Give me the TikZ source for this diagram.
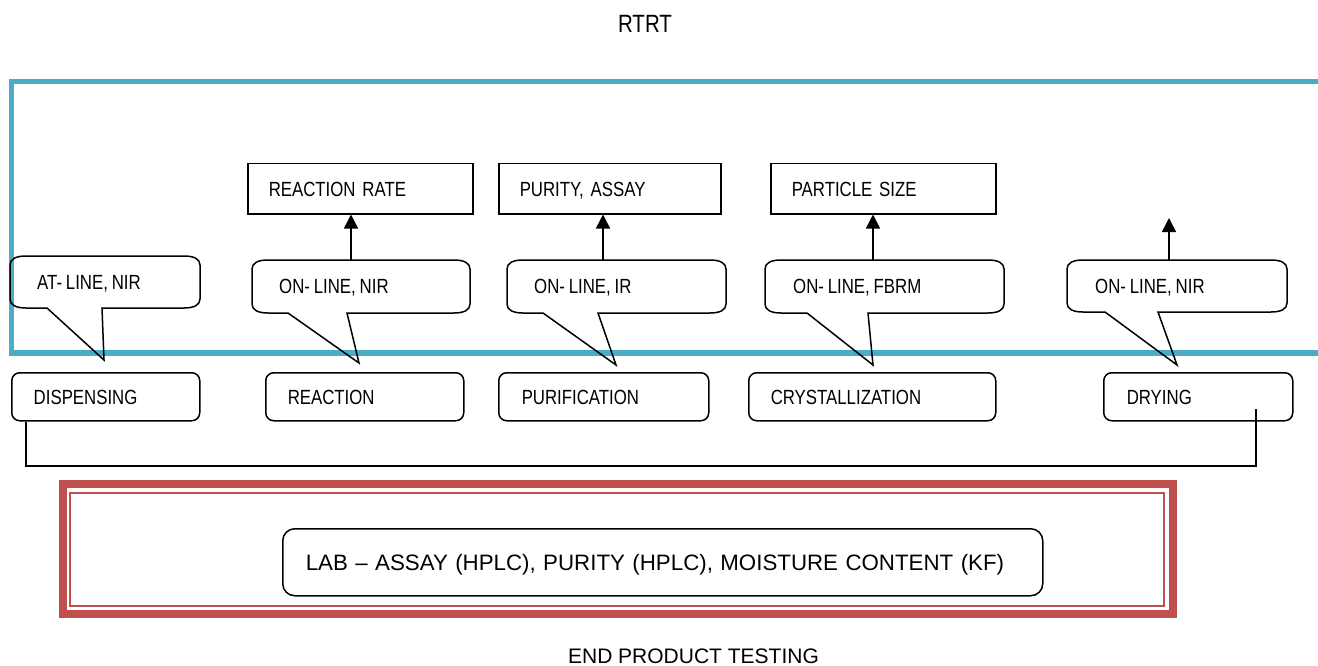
\documentclass[tikz,border=0pt]{standalone}
\usepackage{fontspec}
\setmainfont{Liberation Sans}[FakeStretch=0.82, WordSpace=0.82]
\newfontfamily\widefont{Liberation Sans}
\usetikzlibrary{arrows.meta}
\definecolor{rtrtblue}{HTML}{4BACC6}
\definecolor{labred}{HTML}{C0504D}
\frenchspacing

\begin{document}
\begin{tikzpicture}[x=1pt,y=-1pt,
    font=\fontsize{20.5}{24}\selectfont,
    every node/.style={text height=14.7pt, text depth=0pt},
    stage/.style={draw, line width=1.5pt, rounded corners=8pt, minimum height=48pt,
        inner xsep=22pt, text width=#1, align=left, anchor=north west},
    measure/.style={draw, line width=1.5pt, minimum height=50pt,
        inner xsep=21pt, text width=#1, align=left, anchor=north west},
    bubble/.style={line width=1.5pt, line join=miter},
    arr/.style={line width=1.5pt, -{Triangle[length=14pt,width=14pt]}}]
    \useasboundingbox (0,0) rectangle (1318,666);

    % RTRT frame, open on the right
    \node[font=\fontsize{25}{30}\selectfont, text height=17.9pt] (rtrt) at (645,24) {RTRT};
    \draw[rtrtblue, line width=5.5pt] (1318,81.5) -- (11.5,81.5) -- (11.5,353) -- (1318,353);

    % measured attributes
    \node[measure=183pt] (rate) at (247,163) {REACTION RATE};
    \node[measure=180pt] (purity) at (498,163) {PURITY, ASSAY};
    \node[measure=183pt] (size) at (770,163) {PARTICLE SIZE};

    % analyser callouts
    \foreach \n/\l/\t/\r/\b/\pa/\pb/\tx/\ty/\txt/\label in {
        1/10/256/200/308/47/102/104/360/37/{AT- LINE, NIR},
        2/252/260/470/313/288/347/359/363/279/{ON- LINE, NIR},
        3/507/260/726/313/543/598/616/365/534/{ON- LINE, IR},
        4/765/260/1004/313/807/868/873/365/793/{ON- LINE, FBRM},
        5/1067/260/1287/312/1105/1158/1177/365/1095/{ON- LINE, NIR}}
    {
        \draw[bubble] (\l,\t+9) .. controls (\l,\t+3) and (\l+6,\t) .. (\l+16,\t)
            -- (\r-16,\t) .. controls (\r-6,\t) and (\r,\t+3) .. (\r,\t+9)
            -- (\r,\b-9) .. controls (\r,\b-3) and (\r-6,\b) .. (\r-16,\b)
            -- (\pb,\b) -- (\tx,\ty) -- (\pa,\b)
            -- (\l+16,\b) .. controls (\l+6,\b) and (\l,\b-3) .. (\l,\b-9) -- cycle;
        \node[anchor=west, inner sep=0pt] (call\n) at (\txt,{(\t+\b)/2}) {\label};
    }

    % arrows up to the attributes
    \coordinate (up2) at (351,260);
    \coordinate (up3) at (603,260);
    \coordinate (up4) at (873,260);
    \coordinate (up5) at (1169,260);
    \coordinate (free5) at (1169,218);
    \draw[arr] (up2) -- (up2 |- rate.south);
    \draw[arr] (up3) -- (up3 |- purity.south);
    \draw[arr] (up4) -- (up4 |- size.south);
    \draw[arr] (up5) -- (free5);

    % process steps
    \node[stage=144pt] (dispensing) at (11,372) {DISPENSING};
    \node[stage=154pt] (reaction) at (265,372) {REACTION};
    \node[stage=164pt, inner xsep=23pt] (purification) at (498,372) {PURIFICATION};
    \node[stage=203pt] (crystallization) at (748,372) {CRYSTALLIZATION};
    \node[stage=143pt, inner xsep=23pt] (drying) at (1103,372) {DRYING};

    % bracket under the steps
    \coordinate (brL) at (26,466);
    \coordinate (brR) at (1256,466);
    \coordinate (brTop) at (1256,409);
    \draw[line width=1.3pt] (dispensing.south -| brL) -- (brL) -- (brR) -- (brTop);

    % end product testing
    \draw[labred, line width=8.5pt] (63,484) rectangle (1173,614);
    \draw[labred, line width=2pt] (70,493) rectangle (1164,606);
    \node[stage=714pt, inner xsep=23pt, rounded corners=12pt, minimum height=67pt,
        font=\widefont\fontsize{22.3}{27}\selectfont, text height=16pt]
        (lab) at (282,528) {LAB – ASSAY (HPLC), PURITY (HPLC), MOISTURE CONTENT (KF)};
    \node[font=\widefont\fontsize{21}{25}\selectfont, text height=15pt]
        (endtest) at (693.5,655.5) {END PRODUCT TESTING};
\end{tikzpicture}
\end{document}
